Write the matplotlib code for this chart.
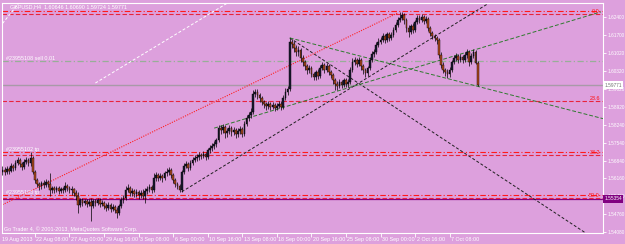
import matplotlib
matplotlib.use('Agg')
import matplotlib.pyplot as plt
import matplotlib.transforms as mtransforms

plt.rcParams['font.family'] = ['Liberation Sans', 'DejaVu Sans']

BG = '#dda0dd'
FS = 3.9
FS_AX = 3.45

# GBPUSD H4 bars
first_open = 1.5640
closes = [
    1.5648, 1.5640, 1.5651, 1.5644, 1.5663, 1.5655, 1.5675, 1.5686, 1.5671, 1.5659,
    1.5679, 1.5686, 1.5675, 1.5694, 1.5640, 1.5609, 1.5593, 1.5585, 1.5597, 1.5589,
    1.5601, 1.5593, 1.5570, 1.5578, 1.5570, 1.5578, 1.5566, 1.5574, 1.5570, 1.5585,
    1.5578, 1.5570, 1.5574, 1.5558, 1.5547, 1.5512, 1.5531, 1.5520, 1.5527, 1.5516,
    1.5523, 1.5508, 1.5527, 1.5520, 1.5531, 1.5516, 1.5520, 1.5508, 1.5500, 1.5512,
    1.5496, 1.5504, 1.5492, 1.5481, 1.5508, 1.5531, 1.5539, 1.5570, 1.5578, 1.5558,
    1.5566, 1.5554, 1.5562, 1.5551, 1.5558, 1.5547, 1.5566, 1.5574, 1.5582, 1.5570,
    1.5616, 1.5628, 1.5616, 1.5624, 1.5616, 1.5636, 1.5640, 1.5648, 1.5628, 1.5609,
    1.5593, 1.5585, 1.5570, 1.5640, 1.5663, 1.5671, 1.5655, 1.5675, 1.5686, 1.5694,
    1.5698, 1.5706, 1.5702, 1.5710, 1.5698, 1.5725, 1.5733, 1.5741, 1.5748, 1.5764,
    1.5810, 1.5803, 1.5814, 1.5791, 1.5799, 1.5810, 1.5795, 1.5803, 1.5787, 1.5799,
    1.5807, 1.5787, 1.5826, 1.5849, 1.5861, 1.5873, 1.5942, 1.5950, 1.5939, 1.5927,
    1.5911, 1.5904, 1.5896, 1.5904, 1.5892, 1.5900, 1.5888, 1.5896, 1.5904, 1.5892,
    1.5927, 1.5950, 1.5962, 1.6144, 1.6136, 1.6121, 1.6105, 1.6113, 1.6082, 1.6067,
    1.6051, 1.6036, 1.6043, 1.6020, 1.6008, 1.6028, 1.6012, 1.6043, 1.6055, 1.6036,
    1.6051, 1.6028, 1.6016, 1.5997, 1.5981, 1.5973, 1.5989, 1.5977, 1.5997, 1.5981,
    1.5989, 1.6036, 1.6067, 1.6074, 1.6059, 1.6074, 1.6051, 1.6036, 1.6024, 1.6043,
    1.6074, 1.6098, 1.6105, 1.6132, 1.6144, 1.6152, 1.6167, 1.6152, 1.6175, 1.6160,
    1.6171, 1.6191, 1.6210, 1.6230, 1.6237, 1.6249, 1.6230, 1.6198, 1.6183, 1.6206,
    1.6191, 1.6222, 1.6237, 1.6230, 1.6241, 1.6226, 1.6233, 1.6198, 1.6179, 1.6167,
    1.6160, 1.6152, 1.6094, 1.6055, 1.6036, 1.6028, 1.6020, 1.6036, 1.6067, 1.6082,
    1.6090, 1.6074, 1.6086, 1.6074, 1.6094, 1.6105, 1.6067, 1.6090, 1.6105, 1.60646,
    1.59771,
]
highs = [
    1.5663, 1.5659, 1.5663, 1.5659, 1.5675, 1.5671, 1.5686, 1.5698, 1.5694, 1.5679,
    1.5690, 1.5698, 1.5694, 1.5717, 1.5702, 1.5648, 1.5616, 1.5601, 1.5605, 1.5609,
    1.5613, 1.5609, 1.5636, 1.5585, 1.5585, 1.5585, 1.5585, 1.5582, 1.5582, 1.5601,
    1.5593, 1.5585, 1.5585, 1.5578, 1.5570, 1.5562, 1.5539, 1.5539, 1.5535, 1.5535,
    1.5535, 1.5539, 1.5535, 1.5535, 1.5539, 1.5539, 1.5531, 1.5527, 1.5520, 1.5523,
    1.5520, 1.5516, 1.5512, 1.5504, 1.5516, 1.5543, 1.5551, 1.5585, 1.5593, 1.5585,
    1.5578, 1.5574, 1.5574, 1.5570, 1.5570, 1.5574, 1.5578, 1.5585, 1.5593, 1.5589,
    1.5636, 1.5640, 1.5636, 1.5636, 1.5632, 1.5644, 1.5655, 1.5659, 1.5655, 1.5636,
    1.5616, 1.5601, 1.5593, 1.5648, 1.5675, 1.5682, 1.5679, 1.5686, 1.5698, 1.5706,
    1.5710, 1.5717, 1.5713, 1.5721, 1.5717, 1.5733, 1.5745, 1.5752, 1.5760, 1.5772,
    1.5822, 1.5822, 1.5826, 1.5822, 1.5810, 1.5822, 1.5818, 1.5814, 1.5810, 1.5810,
    1.5818, 1.5814, 1.5838, 1.5861, 1.5873, 1.5888, 1.5958, 1.5962, 1.5962, 1.5946,
    1.5935, 1.5919, 1.5911, 1.5915, 1.5911, 1.5911, 1.5907, 1.5907, 1.5915, 1.5915,
    1.5939, 1.5966, 1.5973, 1.6160, 1.6156, 1.6148, 1.6132, 1.6129, 1.6121, 1.6094,
    1.6074, 1.6059, 1.6055, 1.6051, 1.6028, 1.6036, 1.6039, 1.6055, 1.6067, 1.6063,
    1.6063, 1.6059, 1.6036, 1.6024, 1.6004, 1.5993, 1.6001, 1.5997, 1.6004, 1.6004,
    1.6001, 1.6047, 1.6082, 1.6086, 1.6082, 1.6086, 1.6082, 1.6059, 1.6043, 1.6051,
    1.6086, 1.6109, 1.6117, 1.6144, 1.6160, 1.6164, 1.6179, 1.6175, 1.6183, 1.6183,
    1.6183, 1.6202, 1.6222, 1.6241, 1.6261, 1.6261, 1.6257, 1.6237, 1.6210, 1.6214,
    1.6218, 1.6230, 1.6249, 1.6249, 1.6253, 1.6249, 1.6245, 1.6241, 1.6206, 1.6187,
    1.6175, 1.6167, 1.6160, 1.6105, 1.6067, 1.6043, 1.6039, 1.6047, 1.6074, 1.6094,
    1.6101, 1.6098, 1.6098, 1.6094, 1.6105, 1.6117, 1.6113, 1.6101, 1.6117, 1.6113,
    1.60690,
]
lows = [
    1.5628, 1.5628, 1.5632, 1.5632, 1.5640, 1.5644, 1.5648, 1.5667, 1.5659, 1.5648,
    1.5651, 1.5671, 1.5663, 1.5663, 1.5632, 1.5597, 1.5582, 1.5570, 1.5574, 1.5578,
    1.5582, 1.5582, 1.5547, 1.5558, 1.5558, 1.5562, 1.5554, 1.5558, 1.5558, 1.5562,
    1.5566, 1.5558, 1.5551, 1.5547, 1.5531, 1.5481, 1.5504, 1.5508, 1.5512, 1.5504,
    1.5508, 1.5450, 1.5500, 1.5508, 1.5512, 1.5504, 1.5508, 1.5496, 1.5488, 1.5492,
    1.5485, 1.5488, 1.5481, 1.5461, 1.5473, 1.5500, 1.5520, 1.5531, 1.5562, 1.5547,
    1.5547, 1.5543, 1.5543, 1.5535, 1.5539, 1.5535, 1.5520, 1.5554, 1.5562, 1.5558,
    1.5562, 1.5605, 1.5605, 1.5609, 1.5601, 1.5609, 1.5624, 1.5628, 1.5616, 1.5597,
    1.5582, 1.5574, 1.5562, 1.5562, 1.5632, 1.5655, 1.5644, 1.5648, 1.5667, 1.5679,
    1.5682, 1.5686, 1.5690, 1.5694, 1.5686, 1.5690, 1.5713, 1.5721, 1.5729, 1.5737,
    1.5756, 1.5787, 1.5791, 1.5772, 1.5776, 1.5787, 1.5779, 1.5783, 1.5772, 1.5776,
    1.5787, 1.5776, 1.5779, 1.5818, 1.5838, 1.5849, 1.5865, 1.5931, 1.5923, 1.5911,
    1.5900, 1.5888, 1.5880, 1.5884, 1.5880, 1.5884, 1.5876, 1.5880, 1.5888, 1.5880,
    1.5884, 1.5919, 1.5939, 1.5954, 1.6121, 1.6105, 1.6090, 1.6090, 1.6067, 1.6051,
    1.6036, 1.6020, 1.6024, 1.6008, 1.5997, 1.5997, 1.6001, 1.6004, 1.6036, 1.6024,
    1.6028, 1.6016, 1.6004, 1.5981, 1.5958, 1.5958, 1.5966, 1.5966, 1.5970, 1.5970,
    1.5970, 1.5981, 1.6028, 1.6055, 1.6047, 1.6051, 1.6036, 1.6020, 1.6008, 1.6012,
    1.6036, 1.6067, 1.6086, 1.6098, 1.6125, 1.6136, 1.6144, 1.6140, 1.6144, 1.6148,
    1.6152, 1.6164, 1.6183, 1.6202, 1.6222, 1.6230, 1.6214, 1.6183, 1.6164, 1.6175,
    1.6179, 1.6183, 1.6214, 1.6218, 1.6222, 1.6214, 1.6218, 1.6187, 1.6167, 1.6156,
    1.6148, 1.6136, 1.6082, 1.6043, 1.6024, 1.6012, 1.6004, 1.6008, 1.6028, 1.6059,
    1.6070, 1.6063, 1.6067, 1.6063, 1.6067, 1.6082, 1.6051, 1.6059, 1.6082, 1.6059,
    1.59724,
]
opens = [first_open] + closes[:-1]

price_ticks = [1.62400, 1.61700, 1.61020, 1.60320, 1.59620, 1.58920, 1.58240,
               1.57540, 1.56840, 1.56160, 1.55450, 1.54760, 1.54080]
time_tick_bars = [15, 31, 47, 63, 79, 95, 111, 127, 143, 159, 175, 191, 207]
time_labels = ['22 Aug 08:00', '27 Aug 00:00', '29 Aug 16:00', '3 Sep 08:00', '6 Sep 00:00',
               '10 Sep 16:00', '13 Sep 08:00', '18 Sep 00:00', '20 Sep 16:00', '25 Sep 08:00',
               '30 Sep 00:00', '2 Oct 16:00', '7 Oct 08:00']

bid = 1.59771
pending_price = 1.55354

# fibo retracement
fib_high = 1.6254
fib_low = 1.4822
fib_levels = [0.0, 23.6, 38.2, 50.0]

# order lines
order_sl = 1.6266
order_sell = 1.6070
order_tp1 = 1.5716
order_tp2 = 1.5549

# trendlines as (bar, price) anchor pairs
black_up = [(83, 1.5563), (184, 1.6083)]
black_down = [(133, 1.6160), (270, 1.5403)]
green_down = [(133, 1.6160), (277, 1.5849)]
green_up = [(98, 1.5810), (277, 1.6261)]
white_a = [(43, 1.5985), (95, 1.6249)]
white_b = [(0, 1.6216), (4, 1.6258)]
red_dotted = [(0, 1.5513), (183, 1.6257)]

fig = plt.figure(figsize=(6.25, 2.44), dpi=100, facecolor=BG)
ax = fig.add_axes([2 / 625, 11 / 244, 601 / 625, 230 / 244], facecolor=BG)
ax.set_xlim(-0.23, 278)
ax.set_ylim(1.54031, 1.62955)


def ray(ax, pts, **kw):
    (x0, y0), (x1, y1) = pts
    k = (y1 - y0) / (x1 - x0)
    ax.plot([x0, 320], [y0, y0 + k * (320 - x0)], **kw)


def seg(ax, pts, **kw):
    (x0, y0), (x1, y1) = pts
    ax.plot([x0, x1], [y0, y1], **kw)


trans_lbl = mtransforms.blended_transform_factory(ax.transAxes, ax.transData)

# horizontal levels
ax.axhline(bid, color='#a89aa8', lw=1.0, zorder=1)
ax.axhline(pending_price, color='#800080', lw=0.9, zorder=1)
for p in [order_sl, order_tp1, order_tp2]:
    ax.axhline(p, color='#ff1a1a', lw=0.8, dashes=(5, 2, 1, 2), zorder=1)
ax.axhline(order_sell, color='#98ae98', lw=0.9, dashes=(5, 2, 1, 2), zorder=1)
for lvl in fib_levels:
    p = fib_high - (fib_high - fib_low) * lvl / 100
    ax.axhline(p, color='#e8243c', lw=0.8, dashes=(4, 2), zorder=1)
    ax.text(0.995, p, f'{lvl:.1f}', transform=trans_lbl, color='#ff1010', fontsize=FS, ha='right', va='bottom')

ax.text(0.006, order_sell, '#23955108 sell 0.01', transform=trans_lbl, color='white', fontsize=FS, va='bottom')
ax.text(0.006, order_tp1, '#23955102 tp', transform=trans_lbl, color='white', fontsize=FS, va='bottom')
ax.text(0.006, order_tp2, '#23955103 tp', transform=trans_lbl, color='white', fontsize=FS, va='bottom')

# trendlines
ray(ax, black_up, color='#202020', lw=0.7, dashes=(3, 2), zorder=2)
seg(ax, black_down, color='#202020', lw=0.7, dashes=(3, 2), zorder=2)
ray(ax, green_down, color='#2f7a2f', lw=0.7, dashes=(4, 2), zorder=2)
seg(ax, green_up, color='#2f7a2f', lw=0.7, dashes=(4, 2), zorder=2)
ray(ax, white_a, color='white', lw=0.7, dashes=(3, 2), zorder=2)
ray(ax, white_b, color='white', lw=0.7, dashes=(3, 2), zorder=2)
seg(ax, red_dotted, color='#ff2020', lw=0.8, dashes=(1, 1.2), zorder=2)

# candles
idx = list(range(len(closes)))
ax.vlines(idx, lows, highs, color='black', lw=0.5, zorder=3)
body_bottom = [min(o, c) for o, c in zip(opens, closes)]
body_height = [abs(c - o) for o, c in zip(opens, closes)]
body_color = ['#1a1a30' if c >= o else '#b04a1e' for o, c in zip(opens, closes)]
ax.bar(idx, body_height, bottom=body_bottom, width=0.8, color=body_color,
       edgecolor='black', linewidth=0.3, zorder=4)

# axes styling
for s in ax.spines.values():
    s.set_color('white')
    s.set_linewidth(0.8)
ax.yaxis.tick_right()
ax.set_yticks(price_ticks)
ax.set_yticklabels([f'{p:.5f}' for p in price_ticks])
ax.tick_params(axis='y', colors='white', length=2, width=0.6, labelsize=FS_AX, pad=1)
ax.set_xticks(time_tick_bars)
ax.set_xticklabels([])
ax.tick_params(axis='x', colors='white', length=3, width=0.6, direction='out')

trans_t = mtransforms.blended_transform_factory(ax.transData, ax.transAxes)
ax.text(-0.1, -0.03, '19 Aug 2013', transform=trans_t, color='white', fontsize=FS, va='center', ha='left')
for b, lab in zip(time_tick_bars, time_labels):
    ax.text(b + 0.7, -0.03, lab, transform=trans_t, color='white', fontsize=FS, va='center', ha='left')

# price boxes
ax.text(1.002, bid, f'{bid:.5f}', transform=trans_lbl, color='#707070', fontsize=FS_AX, va='center', ha='left',
        bbox=dict(boxstyle='square,pad=0.25', fc='white', ec='none'), zorder=5, clip_on=False)
ax.text(1.002, pending_price, f'{pending_price:.5f}', transform=trans_lbl, color='white', fontsize=FS_AX,
        va='center', ha='left', bbox=dict(boxstyle='square,pad=0.25', fc='#800080', ec='none'), zorder=5, clip_on=False)

fig.text(10 / 625, 1 - 7 / 244, 'GBPUSD,H4  1.60646 1.60690 1.59724 1.59771', color='white', fontsize=FS, va='center')
fig.text(4 / 625, 1 - 229 / 244, 'Go Trader 4, \u00a9 2001-2013, MetaQuotes Software Corp.', color='white',
         fontsize=FS, va='center')

fig.savefig('out.png', dpi=100, facecolor=BG)
